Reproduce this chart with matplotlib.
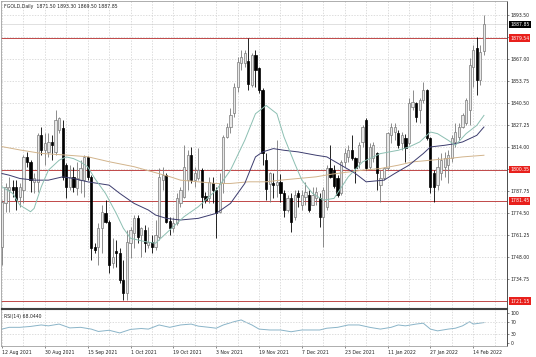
import numpy as np
import matplotlib
matplotlib.use('Agg')
import matplotlib.pyplot as plt
import matplotlib.transforms as mtransforms

# daily OHLC, 12 Aug 2021 .. 17 Feb 2022
opens = [1753.9, 1780.0, 1788.0, 1790.0, 1790.0, 1784.0, 1788.0, 1807.7, 1805.1, 1793.1,
         1793.1, 1821.2, 1812.1, 1811.1, 1817.2, 1811.1, 1824.2, 1825.2, 1803.1, 1790.0,
         1796.1, 1789.0, 1794.1, 1794.1, 1808.1, 1796.1, 1753.9, 1753.9, 1765.0, 1774.0,
         1769.0, 1743.9, 1751.5, 1749.9, 1733.8, 1725.8, 1755.9, 1762.0, 1771.0, 1761.0,
         1764.0, 1754.9, 1756.9, 1753.9, 1759.9, 1794.1, 1797.1, 1769.5, 1765.0, 1768.0,
         1780.1, 1784.1, 1794.1, 1809.2, 1794.1, 1795.1, 1800.1, 1784.7, 1783.1, 1792.5,
         1788.1, 1775.0, 1792.1, 1820.2, 1826.2, 1834.3, 1850.3, 1864.4, 1864.4, 1866.0,
         1851.3, 1869.4, 1861.4, 1848.3, 1806.2, 1791.7, 1792.5, 1790.9, 1793.1, 1786.1,
         1776.0, 1783.1, 1772.0, 1786.5, 1779.0, 1784.1, 1785.1, 1779.0, 1783.1, 1783.1,
         1772.0, 1778.0, 1801.1, 1800.0, 1795.1, 1786.1, 1805.1, 1808.2, 1812.2, 1807.2,
         1805.1, 1817.2, 1830.2, 1802.1, 1807.2, 1810.2, 1791.1, 1795.1, 1801.1, 1821.2,
         1823.2, 1822.2, 1816.2, 1819.2, 1816.2, 1838.3, 1840.3, 1836.3, 1842.3, 1848.3,
         1819.2, 1798.1, 1791.1, 1798.1, 1802.1, 1803.1, 1807.1, 1817.2, 1820.2, 1826.2,
         1828.2, 1836.3, 1862.4, 1873.4, 1854.3, 1871.5]
highs = [1782.0, 1792.1, 1796.1, 1794.0, 1794.1, 1792.1, 1809.1, 1811.1, 1806.1, 1798.1,
         1822.2, 1826.2, 1822.2, 1822.2, 1821.2, 1836.2, 1832.2, 1830.2, 1804.1, 1803.1,
         1802.1, 1805.1, 1806.1, 1809.1, 1808.5, 1797.1, 1755.9, 1768.0, 1779.0, 1782.0,
         1770.0, 1758.9, 1757.9, 1752.9, 1745.9, 1764.0, 1766.0, 1773.0, 1773.0, 1766.0,
         1767.0, 1766.0, 1761.0, 1770.0, 1801.1, 1802.1, 1798.1, 1772.0, 1772.0, 1786.1,
         1790.1, 1815.2, 1812.2, 1814.2, 1802.1, 1813.2, 1801.1, 1787.1, 1796.1, 1796.1,
         1790.1, 1798.1, 1821.2, 1828.2, 1837.3, 1852.3, 1868.4, 1872.4, 1872.4, 1879.5,
         1870.4, 1872.4, 1862.4, 1849.3, 1810.2, 1799.1, 1798.1, 1818.2, 1798.0, 1788.1,
         1785.1, 1786.1, 1788.1, 1788.1, 1788.0, 1793.0, 1788.0, 1790.0, 1790.0, 1786.0,
         1790.0, 1803.0, 1815.2, 1803.0, 1797.0, 1806.1, 1813.2, 1815.2, 1821.2, 1808.2,
         1817.2, 1827.2, 1831.2, 1816.2, 1817.0, 1811.2, 1800.0, 1802.0, 1823.2, 1828.2,
         1828.2, 1824.0, 1823.0, 1822.0, 1843.3, 1848.3, 1841.3, 1843.3, 1853.3, 1849.0,
         1820.2, 1800.0, 1808.2, 1810.2, 1811.0, 1812.2, 1821.2, 1828.2, 1828.2, 1834.3,
         1843.3, 1867.4, 1875.4, 1880.4, 1875.4, 1893.3]
lows = [1742.9, 1775.0, 1775.0, 1784.0, 1776.0, 1778.0, 1780.0, 1802.1, 1787.0, 1786.0,
        1787.0, 1809.1, 1803.1, 1808.1, 1806.1, 1809.1, 1822.2, 1794.1, 1783.0, 1788.0,
        1787.0, 1785.0, 1786.0, 1784.0, 1794.1, 1745.9, 1749.9, 1742.9, 1749.9, 1768.0,
        1737.8, 1740.9, 1741.9, 1731.8, 1721.8, 1721.8, 1746.9, 1752.9, 1755.9, 1747.9,
        1750.9, 1752.9, 1749.9, 1751.9, 1757.9, 1788.0, 1768.0, 1761.0, 1763.0, 1767.0,
        1778.0, 1783.1, 1788.1, 1792.1, 1790.1, 1794.1, 1777.0, 1780.0, 1780.0, 1780.0,
        1758.9, 1774.0, 1786.1, 1819.2, 1822.2, 1832.3, 1847.3, 1860.4, 1862.4, 1848.0,
        1850.3, 1850.3, 1846.3, 1803.1, 1782.1, 1781.1, 1783.1, 1784.1, 1781.1, 1772.0,
        1775.0, 1763.0, 1770.0, 1778.0, 1776.0, 1779.0, 1775.0, 1779.0, 1779.0, 1766.0,
        1753.9, 1776.0, 1795.0, 1789.0, 1784.0, 1785.0, 1802.1, 1805.1, 1806.2, 1792.1,
        1801.1, 1814.2, 1800.1, 1800.1, 1805.0, 1788.1, 1781.0, 1794.0, 1800.0, 1816.2,
        1818.2, 1813.2, 1812.2, 1805.1, 1815.2, 1836.3, 1829.2, 1828.2, 1840.3, 1818.2,
        1786.1, 1781.0, 1788.1, 1794.1, 1796.0, 1792.1, 1805.1, 1814.2, 1818.2, 1825.2,
        1827.2, 1827.0, 1850.3, 1845.3, 1851.3, 1869.5]
closes = [1781.0, 1790.0, 1790.0, 1788.0, 1782.0, 1790.0, 1808.1, 1805.1, 1794.1, 1795.1,
          1821.2, 1812.1, 1816.2, 1817.2, 1815.1, 1830.2, 1831.2, 1796.1, 1790.0, 1796.1,
          1790.0, 1795.1, 1801.1, 1808.1, 1796.1, 1752.9, 1751.9, 1765.0, 1775.0, 1769.0,
          1742.9, 1747.9, 1749.9, 1733.8, 1725.8, 1756.9, 1764.0, 1771.0, 1759.9, 1765.0,
          1755.9, 1756.9, 1753.9, 1761.0, 1796.1, 1797.1, 1769.0, 1765.0, 1768.0, 1783.1,
          1788.1, 1802.1, 1809.2, 1794.1, 1798.1, 1800.1, 1784.1, 1782.1, 1793.1, 1788.1,
          1774.0, 1792.1, 1820.2, 1826.2, 1833.3, 1850.3, 1865.4, 1868.4, 1870.4, 1852.0,
          1869.4, 1860.4, 1848.3, 1810.2, 1788.5, 1798.1, 1790.9, 1793.1, 1786.1, 1776.0,
          1783.1, 1769.0, 1785.1, 1784.1, 1785.1, 1787.1, 1776.0, 1785.1, 1787.1, 1772.0,
          1788.1, 1801.1, 1796.1, 1790.5, 1785.1, 1805.1, 1810.2, 1812.2, 1807.2, 1801.1,
          1815.2, 1826.2, 1801.1, 1814.2, 1815.2, 1798.1, 1795.1, 1801.1, 1822.2, 1826.2,
          1826.2, 1815.2, 1821.2, 1813.2, 1840.3, 1841.3, 1832.2, 1842.3, 1848.3, 1819.2,
          1790.1, 1790.1, 1802.1, 1806.1, 1807.1, 1809.2, 1819.2, 1823.2, 1826.2, 1833.2,
          1842.3, 1863.4, 1872.4, 1854.3, 1871.4, 1887.85]

# moving averages, sampled at bar index
ma_fast_idx = [0, 3, 5, 8, 9, 11, 13, 16, 18, 20, 22, 24, 26, 29, 32, 34, 36, 40, 43, 46,
               51, 55, 60, 64, 68, 71, 74, 77, 79, 82, 84, 87, 90, 93, 97, 101, 106, 111,
               114, 117, 120, 122, 125, 127, 130, 133, 135]
ma_fast = [1790, 1786, 1779, 1775, 1777, 1790, 1800, 1806, 1808, 1807, 1805, 1802, 1795,
           1786, 1774, 1765, 1759, 1757, 1756, 1762, 1772, 1778, 1788, 1800, 1818, 1834,
           1839, 1834, 1820, 1804, 1794, 1786, 1782, 1783, 1796, 1805, 1810, 1812, 1814,
           1817, 1823, 1822, 1818, 1815, 1822, 1827, 1833]
ma_mid_idx = [0, 2, 5, 9, 13, 17, 20, 24, 27, 30, 33, 37, 41, 43, 46, 50, 55, 60, 64, 68,
              71, 73, 76, 79, 83, 88, 91, 95, 99, 102, 107, 110, 114, 118, 120, 124, 127,
              129, 131, 133, 135]
ma_mid = [1798, 1797, 1795, 1794, 1794, 1796, 1795, 1793, 1792, 1791, 1786, 1780, 1776,
          1773, 1771, 1770, 1771, 1774, 1780, 1792, 1808, 1811, 1813, 1812, 1811, 1809,
          1808, 1803, 1798, 1793, 1794, 1798, 1803, 1810, 1814, 1815, 1816, 1817, 1819,
          1821, 1826]
ma_slow_idx = [0, 5, 11, 18, 24, 30, 37, 42, 47, 50, 55, 60, 64, 69, 74, 78, 83, 88, 92,
               101, 106, 111, 115, 120, 125, 129, 135]
ma_slow = [1814.2, 1812.2, 1810.1, 1809.1, 1808.1, 1805.1, 1802.1, 1799.1, 1796.1, 1794,
           1793, 1792, 1792, 1793, 1793, 1794, 1795, 1796, 1797.5, 1800, 1801, 1803, 1805,
           1806, 1807, 1808, 1809]

rsi_idx = [0, 2, 5, 8, 11, 13, 16, 19, 22, 25, 27, 30, 33, 36, 39, 41, 44, 47, 50, 53, 55,
           58, 60, 62, 65, 67, 68, 70, 72, 75, 78, 81, 84, 86, 89, 91, 94, 97, 100, 103,
           106, 109, 111, 113, 116, 118, 120, 122, 125, 127, 129, 131, 132, 135]
rsi = [46, 52, 52, 55, 60, 57, 63, 50, 52, 46, 38, 42, 33, 45, 48, 46, 60, 52, 60, 63, 56,
       52, 49, 60, 71, 77, 71, 60, 46, 43, 43, 37, 43, 43, 43, 49, 52, 60, 60, 52, 46, 52,
       60, 57, 63, 66, 46, 40, 46, 49, 57, 71, 63, 68]

level_lines = [1879.54, 1800.35, 1781.45, 1721.15]
bid = 1887.85
price_ticks = [1734.75, 1748.00, 1761.25, 1774.50, 1787.75, 1800.75, 1814.00, 1827.25,
               1840.50, 1853.75, 1867.00, 1880.25, 1893.50]
date_pos = [0, 12, 24, 36, 48, 60, 72, 84, 96, 108, 120, 132]
date_labels = ['12 Aug 2021', '30 Aug 2021', '15 Sep 2021', '1 Oct 2021', '19 Oct 2021',
               '3 Nov 2021', '19 Nov 2021', '7 Dec 2021', '23 Dec 2021', '11 Jan 2022',
               '27 Jan 2022', '14 Feb 2022']
rsi_ticks = [0, 30, 70, 100]

W, H = 536, 357
fig = plt.figure(figsize=(W / 100, H / 100), dpi=100)
ax = fig.add_axes([1 / W, 49 / H, 506 / W, 307 / H])
ax2 = fig.add_axes([1 / W, 11 / H, 506 / W, 37 / H])

fs = 3.3
tcol = '#202020'
gridkw = dict(color='#cfcfcf', lw=0.5, ls=(0, (2, 2)))

o = np.array(opens); h = np.array(highs); l = np.array(lows); c = np.array(closes)
x = np.arange(len(o))
up = c >= o

# wicks and bodies
ax.vlines(x[up], l[up], h[up], color='#7a7a7a', lw=0.6, zorder=3)
ax.vlines(x[~up], l[~up], h[~up], color='black', lw=0.6, zorder=3)
body = np.maximum(np.abs(c - o), 0.5)
ax.bar(x[up], body[up], bottom=o[up], width=0.62, color='#e8e8e8',
       edgecolor='#7a7a7a', linewidth=0.5, zorder=4)
ax.bar(x[~up], body[~up], bottom=c[~up], width=0.62, color='black',
       edgecolor='black', linewidth=0.5, zorder=4)

ax.plot(ma_slow_idx, ma_slow, color='#d2b48c', lw=0.7, zorder=5)
ax.plot(ma_mid_idx, ma_mid, color='#3c3c6e', lw=0.7, zorder=5)
ax.plot(ma_fast_idx, ma_fast, color='#8cbfb2', lw=0.7, zorder=5)

for v in level_lines:
    ax.axhline(v, color='#c04848', lw=0.7, zorder=2)
ax.axhline(bid, color='#c8c8c8', lw=0.4, zorder=2)

ax.set_xlim(-0.28, 141.46)
ax.set_ylim(1717.0, 1901.9)
ax.set_xticks(np.arange(0, 142, 6))
ax.set_xticklabels([])
ax.tick_params(axis='x', length=0)
ax.yaxis.tick_right()
ax.set_yticks(price_ticks)
ax.set_yticklabels(['%.2f' % v for v in price_ticks])
ax.tick_params(axis='y', labelsize=fs, labelcolor=tcol, length=1.5, width=0.4,
               pad=1.2, color='#303030')
ax.grid(True, **gridkw)
ax.set_axisbelow(True)

trans = mtransforms.blended_transform_factory(ax.transAxes, ax.transData)
for v in level_lines:
    ax.text(1.006, v, '%.2f' % v, transform=trans, fontsize=fs, color='white',
            va='center', ha='left', clip_on=False, zorder=10,
            bbox=dict(boxstyle='square,pad=0.25', fc='#e8201c', ec='none'))
ax.text(1.006, bid, '%.2f' % bid, transform=trans, fontsize=fs, color='white',
        va='center', ha='left', clip_on=False, zorder=10,
        bbox=dict(boxstyle='square,pad=0.25', fc='black', ec='none'))

ax.text(0.005, 0.982, 'FGOLD,Daily  %.2f %.2f %.2f %.2f' % (1871.50, 1893.30, 1869.50, 1887.85),
        transform=ax.transAxes, fontsize=fs, color=tcol, va='center', ha='left')

for side in ['left', 'top']:
    ax.spines[side].set_color('#a0a0a0'); ax.spines[side].set_linewidth(0.6)
ax.spines['right'].set_color('#303030'); ax.spines['right'].set_linewidth(0.6)
ax.spines['bottom'].set_color('#404040'); ax.spines['bottom'].set_linewidth(0.8)

# RSI panel
ax2.plot(rsi_idx, rsi, color='#8ab4c8', lw=0.7)
ax2.set_xlim(-0.28, 141.46)
ax2.set_ylim(-11.2, 114.0)
ax2.set_xticks(date_pos)
ax2.set_xticklabels(date_labels, ha='left')
ax2.set_xticks(np.arange(6, 142, 12), minor=True)
ax2.tick_params(axis='x', which='major', labelsize=fs, labelcolor=tcol, length=1.5,
                width=0.4, pad=1.5, color='#303030')
ax2.tick_params(axis='x', which='minor', length=0)
ax2.yaxis.tick_right()
ax2.set_yticks(rsi_ticks)
ax2.set_yticklabels([str(v) for v in rsi_ticks])
ax2.tick_params(axis='y', labelsize=fs, labelcolor=tcol, length=1.5, width=0.4,
                pad=1.2, color='#303030')
ax2.grid(True, which='both', axis='x', **gridkw)
for v in [30, 70]:
    ax2.axhline(v, **gridkw)
ax2.text(0.005, 0.80, 'RSI(14) 68.0440', transform=ax2.transAxes, fontsize=fs,
         color=tcol, va='center', ha='left')
for side in ['left', 'bottom']:
    ax2.spines[side].set_color('#a0a0a0'); ax2.spines[side].set_linewidth(0.6)
ax2.spines['right'].set_color('#303030'); ax2.spines['right'].set_linewidth(0.6)
ax2.spines['top'].set_color('#404040'); ax2.spines['top'].set_linewidth(0.8)

fig.savefig('out.png', dpi=100)
